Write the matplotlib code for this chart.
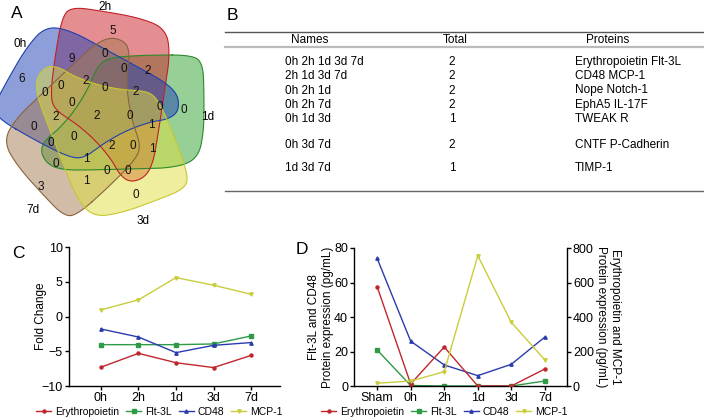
import matplotlib
matplotlib.use("Agg")
import matplotlib.pyplot as plt
import numpy as np

plt.rcParams['font.family'] = ['Liberation Sans', 'DejaVu Sans']
plt.rcParams['font.size'] = 8

# ---- data ----
venn_sets = ['1d', '2h', '0h', '7d', '3d']
venn_colors = ['#2fa32f', '#cd1e26', '#1d3fb3', '#a37a50', '#dede3f']
venn_edges = ['#2a8a2a', '#c02028', '#2040b0', '#8a6440', '#c8c830']
venn_counts = [5, 9, 6, 0, 0, 2, 0, 2, 0, 2, 0, 0, 0, 0, 2, 2, 0, 1,
               0, 0, 0, 2, 0, 1, 0, 1, 0, 0, 1, 3, 0]

tbl_names = ['0h 2h 1d 3d 7d', '2h 1d 3d 7d', '0h 2h 1d', '0h 2h 7d',
             '0h 1d 3d', '0h 3d 7d', '1d 3d 7d']
tbl_total = [2, 2, 2, 2, 1, 2, 1]
tbl_proteins = ['Erythropoietin Flt-3L', 'CD48 MCP-1', 'Nope Notch-1',
                'EphA5 IL-17F', 'TWEAK R', 'CNTF P-Cadherin', 'TIMP-1']

c_times = ['0h', '2h', '1d', '3d', '7d']
c_epo = [-7.3, -5.3, -6.65, -7.35, -5.6]
c_flt = [-4.05, -4.05, -4.05, -3.95, -2.8]
c_cd48 = [-1.8, -2.95, -5.2, -4.15, -3.75]
c_mcp = [0.95, 2.4, 5.6, 4.5, 3.2]

d_times = ['Sham', '0h', '2h', '1d', '3d', '7d']
d_epo = [576, 12, 226, 0, 0, 99]
d_mcp = [16, 29, 83, 755, 369, 151]
d_flt = [20.9, 0.3, 0, 0, 0, 2.9]
d_cd48 = [74, 26, 12.2, 6, 12.6, 28.4]

RED, GREEN, BLUE, YEL = '#bf272d', '#2f9a46', '#2a3cad', '#c9cd3a'

W, H = 704, 419
fig = plt.figure(figsize=(W / 100, H / 100), dpi=100)

# overlay axes in pixel coordinates for panels A and B
ov = fig.add_axes([0, 0, 1, 1])
ov.set_xlim(0, W)
ov.set_ylim(H, 0)
ov.axis('off')


def chaikin(p, n=5):
    for _ in range(n):
        q = np.roll(p, -1, axis=0)
        new = np.empty((2 * len(p), 2))
        new[0::2] = 0.75 * p + 0.25 * q
        new[1::2] = 0.25 * p + 0.75 * q
        p = new
    return p


# one blob outline (lobe towards +u), rotated for each set
blob = np.array([(90, 58), (45, 58), (10, 56), (-5, 50), (-14, 28), (-28, 4),
                 (-45, -16), (-58, -26), (-64, -38), (-56, -52), (-40, -57),
                 (-15, -57), (25, -56), (70, -55), (94, -46), (100, -18),
                 (100, 22), (99, 48)], float)
blob = chaikin(blob)
cx, cy = 104, 113
angles = [0, 80, 150, 222, 290]
for ang, fc, ec in zip(angles, venn_colors, venn_edges):
    t = np.deg2rad(ang)
    u = blob[:, 0] * np.cos(t) - blob[:, 1] * np.sin(t)
    v = blob[:, 0] * np.sin(t) + blob[:, 1] * np.cos(t)
    ov.fill(cx + u, cy - v, facecolor=fc, alpha=0.5, edgecolor='none')
    ov.plot(np.r_[cx + u, cx + u[0]], np.r_[cy - v, cy - v[0]], color=ec, lw=0.8)

count_xy = [(113, 31), (72, 59), (22, 79), (105, 54), (124, 69), (148, 71),
            (61, 86), (86, 81), (105, 88), (136, 92), (45, 93), (72, 103),
            (160, 107), (184, 110), (56, 117), (97, 116), (130, 116), (151, 125),
            (34, 127), (74, 137), (51, 143), (112, 146), (133, 146), (152, 149),
            (56, 164), (86, 159), (107, 171), (128, 171), (86, 181), (41, 187),
            (136, 195)]
for (x, y), n in zip(count_xy, venn_counts):
    ov.text(x, y, str(n), ha='center', va='center', fontsize=8.5, color='#111111')

label_xy = [(208, 117), (105, 7), (20, 44), (33, 210), (143, 221)]
for (x, y), s in zip(label_xy, venn_sets):
    ov.text(x, y, s, ha='center', va='center', fontsize=8.5)

ov.text(17, 13, 'A', ha='center', va='center', fontsize=12.5)
ov.text(232, 15, 'B', ha='center', va='center', fontsize=12.5)
ov.text(18, 253, 'C', ha='center', va='center', fontsize=12.5)
ov.text(302, 249, 'D', ha='center', va='center', fontsize=12.5)

# ---- panel B table ----
ov.plot([225, W], [32.5, 32.5], color='#555555', lw=1.0)
ov.plot([225, W], [47.5, 47.5], color='#bbbbbb', lw=1.6)
ov.plot([225, W], [191, 191], color='#666666', lw=1.0)
ov.text(310, 40, 'Names', ha='center', va='center', fontsize=8.5)
ov.text(455, 40, 'Total', ha='center', va='center', fontsize=8.5)
ov.text(608, 40, 'Proteins', ha='center', va='center', fontsize=8.5)
row_y = [62, 76, 90.5, 105, 119, 145, 168]
for y, nm, tt, pr in zip(row_y, tbl_names, tbl_total, tbl_proteins):
    ov.text(285, y, nm, ha='left', va='center', fontsize=8.5)
    ov.text(452, y, str(tt), ha='center', va='center', fontsize=8.5)
    ov.text(575, y, pr, ha='left', va='center', fontsize=8.5)


def style(ax):
    for s in ['top', 'right']:
        ax.spines[s].set_visible(False)
    for s in ['left', 'bottom']:
        ax.spines[s].set_linewidth(1.0)
    ax.tick_params(direction='out', length=3, width=1.0, labelsize=9, pad=1.5)


# ---- panel C ----
axC = fig.add_axes([69 / W, 1 - 386 / H, 211 / W, 139 / H])
xc = np.arange(len(c_times))
axC.plot(xc, c_epo, color=RED, marker='o', ms=2.2, lw=1.0, label='Erythropoietin')
axC.plot(xc, c_flt, color=GREEN, marker='s', ms=2.2, lw=1.0, label='Flt-3L')
axC.plot(xc, c_cd48, color=BLUE, marker='^', ms=2.4, lw=1.0, label='CD48')
axC.plot(xc, c_mcp, color=YEL, marker='v', ms=2.4, lw=1.0, label='MCP-1')
axC.set_xlim(-0.85, 4.77)
axC.set_ylim(-10, 10)
axC.set_yticks([-10, -5, 0, 5, 10])
axC.set_xticks(xc)
axC.set_xticklabels(c_times)
axC.set_ylabel('Fold Change', fontsize=8.5)
axC.yaxis.set_label_coords(-0.105, 0.5)
style(axC)
axC.legend(loc='center left', bbox_to_anchor=(36 / W, 1 - 411.5 / H),
           bbox_transform=fig.transFigure, ncol=4, frameon=False, fontsize=7.5,
           handlelength=1.45, handletextpad=0.35, columnspacing=0.7,
           borderpad=0, borderaxespad=0)

# ---- panel D ----
axD = fig.add_axes([354.3 / W, 1 - 386 / H, 212.4 / W, 138 / H])
axR = axD.twinx()
xd = np.arange(len(d_times))
l1, = axR.plot(xd, d_epo, color=RED, marker='o', ms=2.2, lw=1.0, label='Erythropoietin')
l2, = axD.plot(xd, d_flt, color=GREEN, marker='s', ms=2.2, lw=1.0, label='Flt-3L')
l3, = axD.plot(xd, d_cd48, color=BLUE, marker='^', ms=2.4, lw=1.0, label='CD48')
l4, = axR.plot(xd, d_mcp, color=YEL, marker='v', ms=2.4, lw=1.0, label='MCP-1')
axD.set_xlim(-0.68, 5.65)
axD.set_ylim(0, 80)
axR.set_ylim(0, 800)
axD.set_yticks([0, 20, 40, 60, 80])
axR.set_yticks([0, 200, 400, 600, 800])
axD.set_xticks(xd)
axD.set_xticklabels(d_times)
style(axD)
axR.spines['top'].set_visible(False)
axR.spines['left'].set_visible(False)
axR.spines['bottom'].set_visible(False)
axR.spines['right'].set_linewidth(1.0)
axR.tick_params(direction='out', length=3, width=1.0, labelsize=9, pad=1.5)
axD.set_ylabel('Flt-3L and CD48\nProtein expression (pg/mL)', fontsize=8.5,
               linespacing=1.15)
axD.yaxis.set_label_coords(-0.097, 0.5)
axR.set_ylabel('Erythropoietin and MCP-1\nProtein expression (pg/mL)', fontsize=8.5,
               rotation=270, linespacing=1.15, va='center')
axR.yaxis.set_label_coords(1.195, 0.5)
fig.legend(handles=[l1, l2, l3, l4], loc='center left',
           bbox_to_anchor=(321 / W, 1 - 411.5 / H), ncol=4, frameon=False,
           fontsize=7.5, handlelength=1.45, handletextpad=0.35,
           columnspacing=0.7, borderpad=0, borderaxespad=0)

fig.savefig('out.png', dpi=100)
